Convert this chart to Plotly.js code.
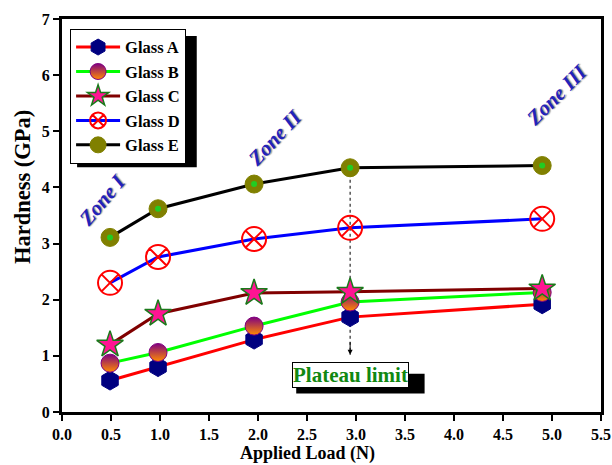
<!DOCTYPE html>
<html><head><meta charset="utf-8">
<script src="https://cdn.plot.ly/plotly-3.0.1.min.js"></script>
<style>body{margin:0;background:#fff}#chart{width:612px;height:465px}</style>
</head><body><div id="chart"></div>
<script>
const loads = [0.49, 0.98, 1.96, 2.94, 4.9];
const glassA = [0.56, 0.80, 1.29, 1.69, 1.92];
const glassB = [0.87, 1.06, 1.53, 1.96, 2.13];
const glassC = [1.20, 1.75, 2.12, 2.14, 2.20];
const glassD = [2.30, 2.76, 3.08, 3.28, 3.44];
const glassE = [3.11, 3.62, 4.06, 4.35, 4.39];
const seriesNames = ['Glass A','Glass B','Glass C','Glass D','Glass E'];
const xTicks = [0,0.5,1,1.5,2,2.5,3,3.5,4,4.5,5,5.5];
const yTicks = [0,1,2,3,4,5,6,7];
const plateauX = 2.94, plateauTop = 4.35, plateauTip = 1.02;

const serif = '"Liberation Serif","Times New Roman",serif';
const traces = [
  {x:loads,y:glassA,name:seriesNames[0],mode:'lines+markers',line:{color:'#ff0000',width:3},
   marker:{symbol:'hexagon',size:19,color:'#000080',line:{color:'#000080',width:1}}},
  {x:loads,y:glassB,name:seriesNames[1],mode:'lines+markers',line:{color:'#00ff00',width:3},
   marker:{symbol:'circle',size:18,color:'#800080',gradient:{type:'vertical',color:'#ff8c00'},line:{color:'#800080',width:1}}},
  {x:loads,y:glassC,name:seriesNames[2],mode:'lines+markers',line:{color:'#800000',width:3},
   marker:{symbol:'star',size:20,color:'#ff1493',line:{color:'#1a7a1a',width:1.5}}},
  {x:loads,y:glassD,name:seriesNames[3],mode:'lines+markers',line:{color:'#0000ff',width:3},
   marker:{symbol:'circle-x-open',size:24,color:'#ff0000',line:{color:'#ff0000',width:2}}},
  {x:loads,y:glassE,name:seriesNames[4],mode:'lines+markers',line:{color:'#000000',width:3},
   marker:{symbol:'circle',size:18,color:'#808000',line:{color:'#808000',width:1}}},
  {x:loads,y:glassE,mode:'markers',showlegend:false,hoverinfo:'skip',
   marker:{symbol:'circle',size:6,color:'#22cc22'}}
];

const zoneFont = {family:serif,size:21,color:'#2222bb',style:'italic',weight:'bold',shadow:'1px 1px 1px #999'};
const layout = {
  width:612,height:465,
  margin:{l:62,r:11,t:19,b:53},
  paper_bgcolor:'#fff',plot_bgcolor:'#fff',
  font:{family:serif,color:'#000'},
  showlegend:true,
  legend:{x:0.015,y:0.975,xanchor:'left',yanchor:'top',bgcolor:'#fff',bordercolor:'#000',borderwidth:1,
    font:{family:serif,size:16.5,weight:'bold',color:'#000'},itemwidth:44,tracegroupgap:0},
  xaxis:{range:[0,5.5],tickvals:xTicks,tickformat:'.1f',showgrid:false,zeroline:false,
    showline:true,linecolor:'#000',linewidth:3,mirror:true,ticks:'outside',ticklen:6,tickwidth:2,tickcolor:'#000',
    tickfont:{family:serif,size:16,weight:'bold'}},
  yaxis:{range:[0,7],tickvals:yTicks,showgrid:false,zeroline:false,
    showline:true,linecolor:'#000',linewidth:3,mirror:true,ticks:'outside',ticklen:6,tickwidth:2,tickcolor:'#000',
    tickfont:{family:serif,size:16,weight:'bold'}},
  shapes:[
    {type:'line',xref:'x',yref:'y',x0:plateauX,x1:plateauX,y0:plateauTop,y1:plateauTip,line:{color:'#000',width:1,dash:'dot'},layer:'below'},
    {type:'rect',xref:'paper',yref:'paper',x0:0.028,x1:0.250,y0:0.623,y1:0.957,fillcolor:'#000',line:{width:0},layer:'below'},
    {type:'rect',xref:'x',yref:'y',x0:2.39,x1:3.70,y0:0.33,y1:0.68,fillcolor:'#000',line:{width:0},layer:'above'}
  ],
  annotations:[
    {x:plateauX,y:plateauTip,ax:plateauX,ay:plateauTip+0.25,axref:'x',ayref:'y',xref:'x',yref:'y',text:'',
     showarrow:true,arrowhead:2,arrowsize:1,arrowwidth:1,arrowcolor:'#000'},
    {x:plateauX,y:0.66,xref:'x',yref:'y',text:'Plateau limit',showarrow:false,
     font:{family:serif,size:21,weight:'bold',color:'#118811'},bgcolor:'#fff',bordercolor:'#000',borderwidth:1,borderpad:0},
    {x:0.41,y:3.78,xref:'x',yref:'y',text:'Zone I',showarrow:false,textangle:-50,font:zoneFont},
    {x:2.17,y:4.88,xref:'x',yref:'y',text:'Zone II',showarrow:false,textangle:-47,font:zoneFont},
    {x:5.05,y:5.64,xref:'x',yref:'y',text:'Zone III',showarrow:false,textangle:-45,font:zoneFont},
    {x:0.456,y:-0.134,xref:'paper',yref:'paper',xanchor:'center',yanchor:'bottom',text:'Applied Load (N)',showarrow:false,
     font:{family:serif,size:18,weight:'bold'},borderpad:0},
    {x:-0.0742,y:0.5725,xref:'paper',yref:'paper',xanchor:'center',yanchor:'middle',textangle:-90,text:'Hardness (GPa)',showarrow:false,
     font:{family:serif,size:22.5,weight:'bold'}}
  ]
};
Plotly.newPlot('chart',traces,layout,{displayModeBar:false,staticPlot:true});
</script></body></html>
